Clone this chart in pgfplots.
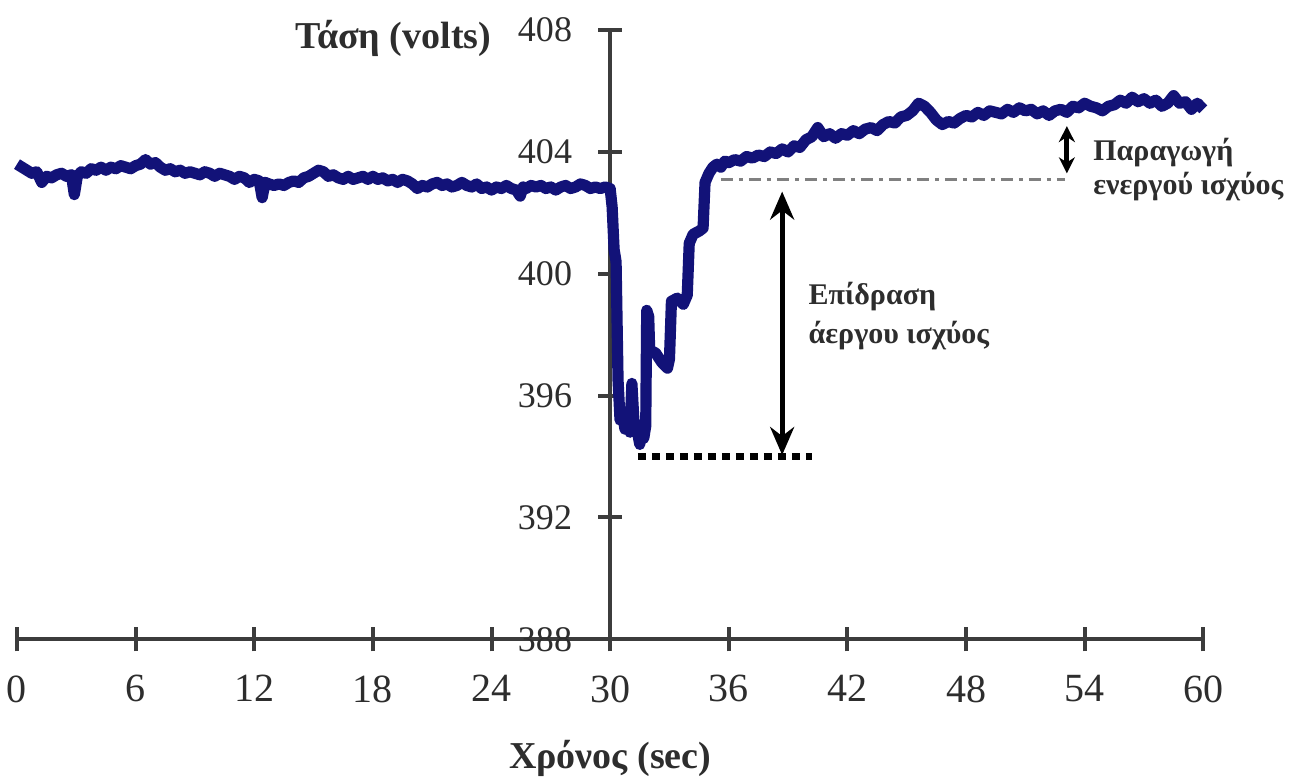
\documentclass[border=0pt]{standalone}
\usepackage{pgfplots}
\pgfplotsset{compat=1.18}
\usepackage{pgfplotstable}
\usepackage{fontspec}
\setmainfont{Liberation Serif}
\usetikzlibrary{arrows.meta}
\definecolor{navyline}{RGB}{18,18,120}
\definecolor{axgray}{RGB}{60,60,60}
\definecolor{txtgray}{RGB}{45,45,45}

\pgfplotstableread{
t v
0 403.6
0.25 403.5
0.5 403.4
0.75 403.3
1.0 403.35
1.25 403.0
1.5 403.2
1.75 403.15
2.0 403.25
2.25 403.3
2.5 403.2
2.75 403.25
2.9 402.6
3.05 403.2
3.25 403.35
3.5 403.3
3.75 403.45
4.0 403.4
4.25 403.5
4.5 403.4
4.75 403.5
5.0 403.45
5.25 403.55
5.5 403.5
5.75 403.45
6.0 403.55
6.25 403.6
6.5 403.75
6.75 403.6
7.0 403.65
7.25 403.5
7.5 403.4
7.75 403.45
8.0 403.35
8.25 403.4
8.5 403.3
8.75 403.35
9.0 403.3
9.25 403.25
9.5 403.35
9.75 403.3
10.0 403.2
10.25 403.3
10.5 403.25
10.75 403.2
11.0 403.1
11.25 403.2
11.5 403.15
11.75 403.0
12.0 403.1
12.25 403.05
12.4 402.5
12.55 403.0
12.75 402.95
13.0 402.9
13.25 402.95
13.5 402.9
13.75 403.0
14.0 403.05
14.25 403.0
14.5 403.15
14.75 403.2
15.0 403.3
15.25 403.4
15.5 403.35
15.75 403.2
16.0 403.25
16.25 403.15
16.5 403.1
16.75 403.2
17.0 403.1
17.25 403.15
17.5 403.2
17.75 403.1
18.0 403.2
18.25 403.1
18.5 403.15
18.75 403.05
19.0 403.1
19.25 403.0
19.5 403.1
19.75 403.05
20.0 402.95
20.25 402.8
20.5 402.9
20.75 402.85
21.0 402.95
21.25 403.0
21.5 402.9
21.75 402.95
22.0 402.85
22.25 402.9
22.5 403.0
22.75 402.9
23.0 402.85
23.25 402.95
23.5 402.8
23.75 402.85
24.0 402.75
24.25 402.85
24.5 402.8
24.75 402.9
25.0 402.8
25.25 402.75
25.45 402.55
25.6 402.85
25.75 402.8
26.0 402.9
26.25 402.85
26.5 402.9
26.75 402.8
27.0 402.85
27.25 402.75
27.5 402.85
27.75 402.9
28.0 402.8
28.25 402.85
28.5 402.95
28.75 402.9
29.0 402.8
29.25 402.85
29.5 402.8
29.75 402.85
30.0 402.8
30.1 402.2
30.2 400.8
30.3 400.4
30.4 396.5
30.5 395.2
30.6 395.5
30.75 394.9
30.9 395.2
31.0 394.8
31.1 396.4
31.2 395.2
31.35 394.9
31.5 394.4
31.6 395.0
31.7 394.6
31.8 395.0
31.85 398.8
31.95 398.6
32.0 397.5
32.3 397.4
32.6 397.1
32.9 396.9
33.0 397.2
33.1 399.1
33.4 399.2
33.7 399.0
33.9 399.3
34.0 401.0
34.2 401.3
34.5 401.4
34.7 401.5
34.8 403.0
35.0 403.3
35.2 403.5
35.4 403.6
35.6 403.5
35.8 403.7
36.0 403.65
36.3 403.75
36.6 403.7
36.9 403.85
37.2 403.8
37.5 403.9
37.8 403.85
38.1 404.0
38.4 403.95
38.7 404.1
39.0 404.0
39.3 404.2
39.6 404.15
39.9 404.4
40.2 404.5
40.5 404.8
40.8 404.5
41.1 404.6
41.4 404.45
41.7 404.6
42.0 404.55
42.3 404.7
42.6 404.6
42.9 404.75
43.2 404.8
43.5 404.7
43.8 404.9
44.1 405.0
44.4 404.95
44.7 405.15
45.0 405.2
45.3 405.35
45.6 405.6
45.9 405.5
46.2 405.3
46.5 405.05
46.8 404.9
47.1 405.0
47.4 404.95
47.7 405.1
48.0 405.2
48.3 405.15
48.6 405.3
48.9 405.2
49.2 405.35
49.5 405.3
49.8 405.25
50.1 405.4
50.4 405.3
50.7 405.45
51.0 405.35
51.3 405.4
51.6 405.25
51.9 405.35
52.2 405.2
52.5 405.35
52.8 405.4
53.1 405.3
53.4 405.5
53.7 405.45
54.0 405.6
54.3 405.5
54.6 405.45
54.9 405.35
55.2 405.5
55.5 405.55
55.8 405.7
56.1 405.6
56.4 405.8
56.7 405.65
57.0 405.75
57.3 405.6
57.6 405.7
57.9 405.5
58.2 405.6
58.5 405.85
58.8 405.6
59.1 405.65
59.4 405.4
59.7 405.6
60.0 405.4
}\voltage

\begin{document}
\begin{tikzpicture}
\begin{axis}[
  scale only axis, width=296.5pt, height=152.25pt,
  xmin=-30, xmax=30, ymin=0, ymax=20,
  axis lines=middle,
  axis line style={-, line width=1pt, draw=axgray},
  hide obscured x ticks=false, hide obscured y ticks=false,
  xtick={-30,-24,...,30}, xticklabels={0,6,12,18,24,30,36,42,48,54,60},
  ytick={0,4,...,20}, yticklabels={388,392,396,400,404,408},
  tick align=center, major tick length=6pt,
  tick style={line width=1pt, draw=axgray},
  xticklabel style={font=\fontsize{10}{12}\selectfont, text=txtgray, yshift=-2.5pt},
  yticklabel style={font=\fontsize{9}{11}\selectfont, text=txtgray, xshift=-3pt},
  clip=false,
  /pgf/number format/assume math mode=true,
]
\addplot[navyline, line width=2.8pt, line join=round] table[x expr=\thisrow{t}-30, y expr=\thisrow{v}-388]{\voltage};

\draw[gray, line width=0.6pt, dash pattern=on 3pt off 1.5pt on 1pt off 1.5pt] (axis cs:5.6,15.1) -- (axis cs:23,15.1);
\draw[{Stealth[length=4pt,width=4pt]}-{Stealth[length=4pt,width=4pt]}, line width=1.2pt] (axis cs:23.1,16.85) -- (axis cs:23.1,15.3);
\draw[{Stealth[length=7pt,width=6pt]}-{Stealth[length=7pt,width=6pt]}, line width=1.3pt] (axis cs:8.7,14.7) -- (axis cs:8.7,6.05);
\draw[line width=1.6pt, dash pattern=on 2pt off 1.5pt] (axis cs:1.4,6.0) -- (axis cs:10.2,6.0);

\node[anchor=west, text=txtgray, font=\fontsize{7.5}{9}\selectfont\bfseries, inner sep=0pt] at (axis cs:24.4,15.99) {Παραγωγή};
\node[anchor=west, text=txtgray, font=\fontsize{7.5}{9}\selectfont\bfseries, inner sep=0pt] at (axis cs:24.4,14.87) {ενεργού ισχύος};
\node[anchor=west, text=txtgray, font=\fontsize{7.5}{9}\selectfont\bfseries, inner sep=0pt] at (axis cs:10.0,11.25) {Επίδραση};
\node[anchor=west, text=txtgray, font=\fontsize{7.5}{9}\selectfont\bfseries, inner sep=0pt] at (axis cs:10.0,9.97) {άεργου ισχύος};
\node[anchor=east, text=txtgray, font=\fontsize{9.5}{11}\selectfont\bfseries, inner sep=0pt] at (axis cs:-5.97,19.74) {Τάση (volts)};
\node[anchor=center, text=txtgray, font=\fontsize{9.5}{11}\selectfont\bfseries, inner sep=0pt] at (axis cs:0,-3.9) {Χρόνος (sec)};

\coordinate (bl) at (axis cs:-30.86,-4.70);
\coordinate (tr) at (axis cs:34.64,20.99);
\end{axis}
\pgfresetboundingbox
\path[use as bounding box] (bl) rectangle (tr);
\end{tikzpicture}
\end{document}
